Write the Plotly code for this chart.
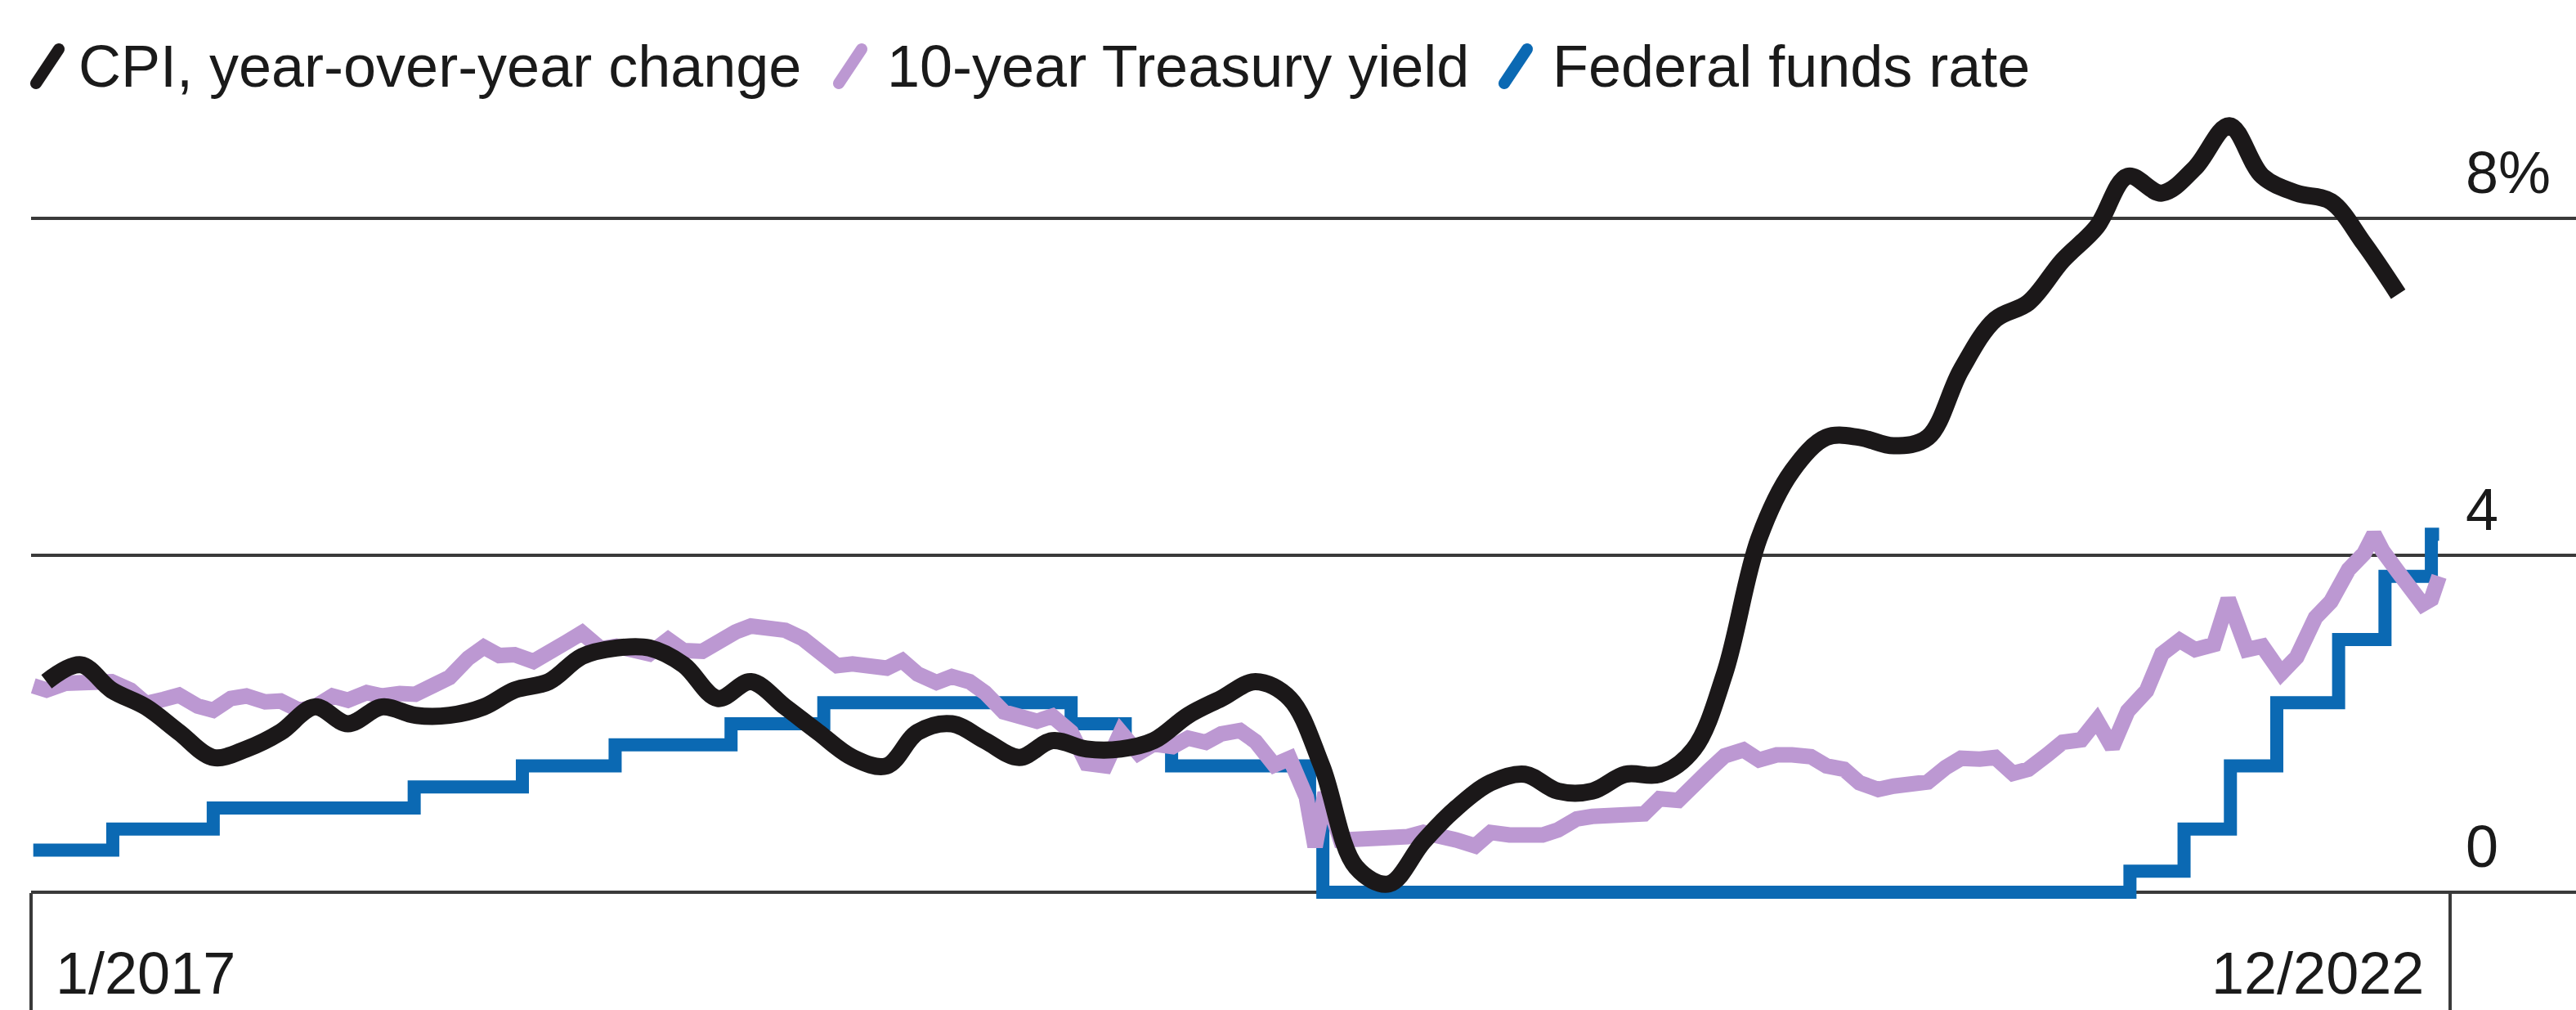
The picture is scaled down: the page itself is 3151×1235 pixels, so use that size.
import math
from datetime import date, timedelta

import plotly.graph_objects as go

# ---------------------------------------------------------------- data
# CPI, year-over-year change (%), monthly from Jan 2017 to Nov 2022
cpi_start = (2017, 1)
cpi_yoy = [
    2.5, 2.7, 2.4, 2.2, 1.9, 1.6, 1.7, 1.9, 2.2, 2.0, 2.2, 2.1,   # 2017
    2.1, 2.2, 2.4, 2.5, 2.8, 2.9, 2.9, 2.7, 2.3, 2.5, 2.2, 1.9,   # 2018
    1.6, 1.5, 1.9, 2.0, 1.8, 1.6, 1.8, 1.7, 1.7, 1.8, 2.1, 2.3,   # 2019
    2.5, 2.3, 1.5, 0.3, 0.1, 0.6, 1.0, 1.3, 1.4, 1.2, 1.2, 1.4,   # 2020
    1.4, 1.7, 2.6, 4.2, 5.0, 5.4, 5.4, 5.3, 5.4, 6.2, 6.8, 7.0,   # 2021
    7.5, 7.9, 8.5, 8.3, 8.6, 9.1, 8.5, 8.3, 8.2, 7.7, 7.1,        # 2022
]

# 10-year Treasury yield (%)
treasury_dates = [
    "2017-01-03", "2017-01-15", "2017-02-01", "2017-02-15", "2017-03-01", "2017-03-15",
    "2017-04-01", "2017-04-15", "2017-05-01", "2017-05-15", "2017-06-01", "2017-06-15",
    "2017-07-01", "2017-07-15", "2017-08-01", "2017-08-15", "2017-09-01", "2017-09-15",
    "2017-10-01", "2017-10-15", "2017-11-01", "2017-11-15", "2017-12-01", "2017-12-15",
    "2018-01-01", "2018-01-15", "2018-02-01", "2018-02-15", "2018-03-01", "2018-03-15",
    "2018-04-01", "2018-04-15", "2018-05-01", "2018-05-15", "2018-06-01", "2018-06-15",
    "2018-07-01", "2018-07-15", "2018-08-01", "2018-08-15", "2018-09-01", "2018-09-15",
    "2018-10-01", "2018-10-15", "2018-11-01", "2018-11-15", "2018-12-01", "2018-12-15",
    "2019-01-01", "2019-01-15", "2019-02-01", "2019-02-15", "2019-03-01", "2019-03-15",
    "2019-04-01", "2019-04-15", "2019-05-01", "2019-05-15", "2019-06-01", "2019-06-15",
    "2019-07-01", "2019-07-15", "2019-08-01", "2019-08-15", "2019-09-01", "2019-09-15",
    "2019-10-01", "2019-10-15", "2019-11-01", "2019-11-15", "2019-12-01", "2019-12-15",
    "2020-01-01", "2020-01-15", "2020-02-01", "2020-02-15", "2020-03-01", "2020-03-09",
    "2020-03-18", "2020-04-01", "2020-04-15", "2020-05-01", "2020-05-15", "2020-06-01",
    "2020-06-15", "2020-07-01", "2020-07-15", "2020-08-01", "2020-08-15", "2020-09-01",
    "2020-09-15", "2020-10-01", "2020-10-15", "2020-11-01", "2020-11-15", "2020-12-01",
    "2020-12-15",
    "2021-01-01", "2021-01-15", "2021-02-01", "2021-02-15", "2021-03-01", "2021-03-15",
    "2021-04-01", "2021-04-15", "2021-05-01", "2021-05-15", "2021-06-01", "2021-06-15",
    "2021-07-01", "2021-07-15", "2021-08-01", "2021-08-15", "2021-09-01", "2021-09-15",
    "2021-10-01", "2021-10-15", "2021-11-01", "2021-11-15", "2021-12-01", "2021-12-15",
    "2022-01-01", "2022-01-15", "2022-02-01", "2022-02-15", "2022-03-01", "2022-03-15",
    "2022-04-01", "2022-04-15", "2022-05-01", "2022-05-15", "2022-06-01", "2022-06-14",
    "2022-07-01", "2022-07-15", "2022-08-01", "2022-08-15", "2022-09-01", "2022-09-15",
    "2022-10-01", "2022-10-15", "2022-10-24", "2022-11-01", "2022-11-15", "2022-12-01",
    "2022-12-07", "2022-12-15", "2022-12-22",
]
treasury_yield = [
    2.45, 2.40, 2.48, 2.49, 2.46, 2.50, 2.40, 2.24, 2.29, 2.34, 2.21, 2.16,
    2.30, 2.33, 2.26, 2.27, 2.16, 2.20, 2.33, 2.28, 2.37, 2.33, 2.36, 2.35,
    2.46, 2.55, 2.78, 2.91, 2.81, 2.82, 2.74, 2.83, 2.97, 3.08, 2.89, 2.92,
    2.85, 2.83, 3.00, 2.87, 2.86, 2.99, 3.09, 3.16, 3.14, 3.11, 3.01, 2.89,
    2.69, 2.71, 2.69, 2.66, 2.75, 2.59, 2.49, 2.56, 2.50, 2.37, 2.14, 2.09,
    2.03, 2.09, 1.90, 1.53, 1.50, 1.90, 1.65, 1.76, 1.73, 1.83, 1.78, 1.88,
    1.92, 1.79, 1.51, 1.59, 1.13, 0.54, 1.18, 0.62, 0.63, 0.64, 0.64, 0.66,
    0.71, 0.68, 0.62, 0.55, 0.71, 0.68, 0.68, 0.68, 0.74, 0.87, 0.90, 0.93,
    0.92,
    0.93, 1.11, 1.09, 1.30, 1.45, 1.62, 1.69, 1.57, 1.63, 1.63, 1.61, 1.50,
    1.46, 1.30, 1.22, 1.26, 1.30, 1.31, 1.48, 1.59, 1.58, 1.60, 1.41, 1.46,
    1.63, 1.78, 1.81, 2.04, 1.72, 2.15, 2.39, 2.83, 2.99, 2.88, 2.94, 3.48,
    2.88, 2.92, 2.60, 2.79, 3.26, 3.45, 3.83, 4.02, 4.25, 4.05, 3.80, 3.53,
    3.42, 3.48, 3.75,
]

# Federal funds rate, lower bound of the target range (%), by decision date
fed_dates = [
    "2017-01-03", "2017-03-16", "2017-06-15", "2017-12-14", "2018-03-22",
    "2018-06-14", "2018-09-27", "2018-12-20", "2019-08-01", "2019-09-19",
    "2019-10-31", "2020-03-04", "2020-03-16", "2022-03-17", "2022-05-05",
    "2022-06-16", "2022-07-28", "2022-09-22", "2022-11-03", "2022-12-15",
    "2022-12-22",
]
fed_rate = [
    0.50, 0.75, 1.00, 1.25, 1.50,
    1.75, 2.00, 2.25, 2.00, 1.75,
    1.50, 1.00, 0.00, 0.25, 0.75,
    1.50, 2.25, 3.00, 3.75, 4.25,
    4.25,
]

y_ticks = [0, 4, 8]
y_tick_text = ["0", "4", "8%"]
x_tick_dates = ["2017-01-01", "2023-01-01"]
x_tick_text = ["1/2017", "12/2022"]

series_names = ["CPI, year-over-year change", "10-year Treasury yield", "Federal funds rate"]
series_colors = ["#1b1819", "#bc98d2", "#0b69b3"]
series_widths = [21, 19, 16]

# ---------------------------------------------------------------- layout geometry
W, H = 3151, 1235
ML, MR, MT, MB = 38, 0, 130, 94
BASE_PX = 1091          # pixel row of the 0% line
PX_PER_PCT = 103        # vertical pixels per percentage point
X_START = date(2017, 1, 1)
X_END_TICK = date(2023, 1, 1)
X_END_TICK_PX = 2996

plot_w = W - ML - MR
plot_h = H - MT - MB
y_min = -(H - MB - BASE_PX) / PX_PER_PCT
y_max = (BASE_PX - MT) / PX_PER_PCT
px_per_day = (X_END_TICK_PX - ML) / (X_END_TICK - X_START).days
x_end = X_START + timedelta(days=plot_w / px_per_day)


def paper_x(px):
    return (px - ML) / plot_w


def paper_y(py):
    return (H - MB - py) / plot_h


FONT = "Liberation Sans, Arial, Helvetica, sans-serif"
TEXT = "#1a1a1a"
GRID = "#3a3a3a"
FS = 72

cpi_dates = []
for i in range(len(cpi_yoy)):
    m = cpi_start[1] - 1 + i
    cpi_dates.append(date(cpi_start[0] + m // 12, m % 12 + 1, 15))

fig = go.Figure()
fig.add_trace(go.Scatter(
    x=fed_dates, y=fed_rate, mode="lines", name=series_names[2],
    line=dict(color=series_colors[2], width=series_widths[2], shape="hv"),
    hoverinfo="skip", showlegend=False,
))
fig.add_trace(go.Scatter(
    x=treasury_dates, y=treasury_yield, mode="lines", name=series_names[1],
    line=dict(color=series_colors[1], width=series_widths[1]),
    hoverinfo="skip", showlegend=False,
))
fig.add_trace(go.Scatter(
    x=cpi_dates, y=cpi_yoy, mode="lines", name=series_names[0],
    line=dict(color=series_colors[0], width=series_widths[0], shape="spline", smoothing=1.0),
    hoverinfo="skip", showlegend=False,
))

annotations = []
shapes = []

# value labels sitting above each gridline on the right
for v, t in zip(y_ticks, y_tick_text):
    annotations.append(dict(
        x=paper_x(3014), xref="paper", xanchor="left",
        y=v, yref="y", yanchor="bottom", yshift=14,
        text=t, showarrow=False, font=dict(family=FONT, size=FS, color=TEXT),
    ))

# date labels beside the two ticks
label_y = paper_y(1190)
annotations.append(dict(
    x=x_tick_dates[0], xref="x", xanchor="left", xshift=28,
    y=label_y, yref="paper", yanchor="middle",
    text=x_tick_text[0], showarrow=False, font=dict(family=FONT, size=FS, color=TEXT),
))
annotations.append(dict(
    x=x_tick_dates[1], xref="x", xanchor="right", xshift=-30,
    y=label_y, yref="paper", yanchor="middle",
    text=x_tick_text[1], showarrow=False, font=dict(family=FONT, size=FS, color=TEXT),
))


# legend: slanted rounded strokes followed by the series name
def capsule(cx, cy, dx, dy, r, n=10):
    ax, ay = cx - dx, cy + dy
    bx, by = cx + dx, cy - dy
    ln = math.hypot(bx - ax, by - ay)
    ux, uy = (bx - ax) / ln, (by - ay) / ln
    base = math.atan2(uy, ux)
    pts = []
    for k in range(n + 1):
        a = base - math.pi / 2 + math.pi * k / n
        pts.append((bx + r * math.cos(a), by + r * math.sin(a)))
    for k in range(n + 1):
        a = base + math.pi / 2 + math.pi * k / n
        pts.append((ax + r * math.cos(a), ay + r * math.sin(a)))
    d = "M " + " L ".join(f"{paper_x(x):.5f},{paper_y(y):.5f}" for x, y in pts) + " Z"
    return d


legend_icon_x = [58, 1040, 1854]
legend_text_x = [94, 1083, 1897]
legend_y = 81
for name, color, ix, tx in zip(series_names, series_colors, legend_icon_x, legend_text_x):
    shapes.append(dict(
        type="path", xref="paper", yref="paper",
        path=capsule(ix, legend_y, 14, 21, 7),
        fillcolor=color, line=dict(width=0), layer="above",
    ))
    annotations.append(dict(
        x=paper_x(tx), xref="paper", xanchor="left",
        y=paper_y(legend_y), yref="paper", yanchor="middle",
        text=name, showarrow=False, font=dict(family=FONT, size=FS, color=TEXT),
    ))

fig.update_layout(
    width=W, height=H,
    margin=dict(l=ML, r=MR, t=MT, b=MB, pad=0),
    paper_bgcolor="white", plot_bgcolor="white",
    showlegend=False,
    annotations=annotations,
    shapes=shapes,
    xaxis=dict(
        type="date",
        range=[X_START.isoformat(), x_end.isoformat()],
        anchor="free", position=paper_y(BASE_PX),
        showgrid=False, zeroline=False, showline=False,
        tickmode="array", tickvals=x_tick_dates, showticklabels=False,
        ticks="outside", ticklen=H - BASE_PX, tickwidth=4, tickcolor=GRID,
        fixedrange=True,
    ),
    yaxis=dict(
        range=[y_min, y_max],
        tickmode="array", tickvals=y_ticks, showticklabels=False,
        showgrid=True, gridcolor=GRID, gridwidth=4,
        zeroline=False, showline=False, ticks="",
        fixedrange=True,
    ),
)

fig.write_html("out.html", config={"displayModeBar": False})
